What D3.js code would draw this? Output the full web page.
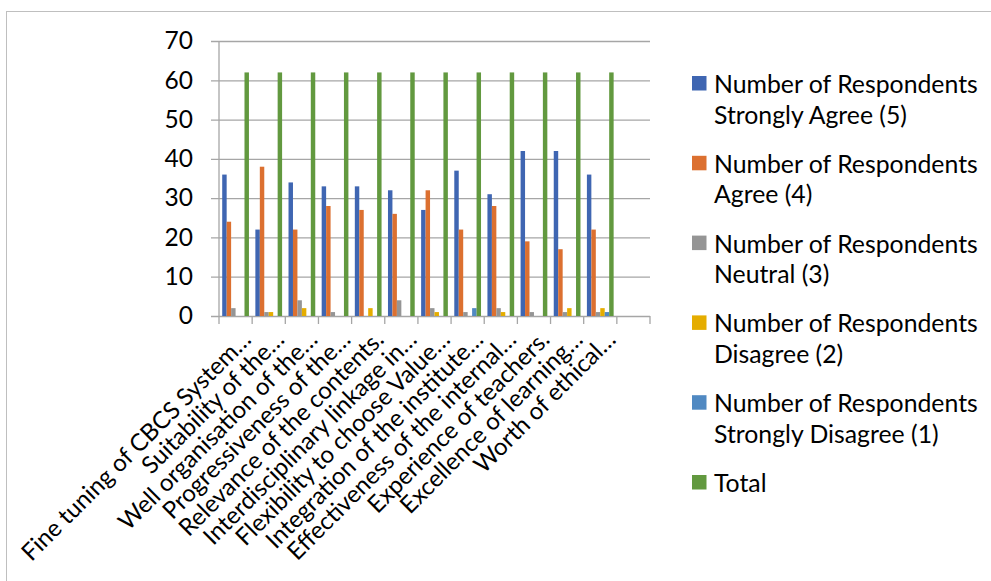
<!DOCTYPE html>
<html>
<head>
<meta charset="utf-8">
<script src="https://cdn.jsdelivr.net/npm/d3@7"></script>
<style>
  html, body { margin: 0; padding: 0; background: #ffffff; }
  svg { display: block; }
  text { font-family: Lato, "Open Sans", sans-serif; fill: #000000; }
</style>
</head>
<body>
<svg id="chart" width="991" height="581"></svg>
<script>
// Survey items (category axis)
const categories = [
  "Fine tuning of CBCS System…",
  "Suitability of the…",
  "Well organisation of the…",
  "Progressiveness of the…",
  "Relevance of the contents.",
  "Interdisciplinary linkage in…",
  "Flexibility to choose Value…",
  "Integration of the institute…",
  "Effectiveness of the internal…",
  "Experience of teachers.",
  "Excellence of learning…",
  "Worth of ethical…"
];

// Series names (legend, two lines each)
const seriesNames = [
  ["Number of Respondents", "Strongly Agree (5)"],
  ["Number of Respondents", "Agree (4)"],
  ["Number of Respondents", "Neutral (3)"],
  ["Number of Respondents", "Disagree (2)"],
  ["Number of Respondents", "Strongly Disagree (1)"],
  ["Total"]
];
const seriesColors = ["#3F66B2", "#DC7030", "#959595", "#E5AD00", "#5089C2", "#62993F"];

// Responses per item
const stronglyAgree    = [36, 22, 34, 33, 33, 32, 27, 37, 31, 42, 42, 36];
const agree            = [24, 38, 22, 28, 27, 26, 32, 22, 28, 19, 17, 22];
const neutral          = [ 2,  1,  4,  1,  0,  4,  2,  1,  2,  1,  1,  1];
const disagree         = [ 0,  1,  2,  0,  2,  0,  1,  0,  1,  0,  2,  2];
const stronglyDisagree = [ 0,  0,  0,  0,  0,  0,  0,  2,  0,  0,  0,  1];
const total            = [62, 62, 62, 62, 62, 62, 62, 62, 62, 62, 62, 62];

const yTicks = [0, 10, 20, 30, 40, 50, 60, 70];

const seriesValues = [stronglyAgree, agree, neutral, disagree, stronglyDisagree, total];

const svg = d3.select("#chart");
const plot = { left: 219, right: 650, top: 41, bottom: 316 };
const gridColor = "#A6A6A6";

// Chart area frame
svg.append("rect")
  .attr("x", 6.5).attr("y", 11.5)
  .attr("width", 1100).attr("height", 700)
  .attr("fill", "none").attr("stroke", "#BFBFBF").attr("stroke-width", 1);

// Scales: one extra empty slot at the end of the category axis
const x0 = d3.scaleBand()
  .domain(d3.range(categories.length + 1))
  .range([plot.left, plot.right])
  .paddingInner(0).paddingOuter(0);

const x1 = d3.scaleBand()
  .domain(d3.range(seriesValues.length))
  .range([0, x0.bandwidth()])
  .paddingInner(0).paddingOuter(0.72);

const y = d3.scaleLinear().domain([0, 70]).range([plot.bottom, plot.top]);

// Horizontal gridlines with short ticks to the left
const yAxis = d3.axisLeft(y)
  .tickValues(yTicks)
  .tickSize(-(plot.right - plot.left))
  .tickSizeOuter(0)
  .tickPadding(26)
  .tickFormat(d3.format("d"));

const gy = svg.append("g")
  .attr("transform", `translate(${plot.left},0)`)
  .call(yAxis);
gy.select(".domain").remove();
gy.selectAll(".tick line")
  .attr("x1", -8)
  .attr("stroke", gridColor).attr("stroke-width", 1.3);
gy.selectAll(".tick text")
  .attr("font-size", 24.5)
  .attr("font-family", "Lato, 'Open Sans', sans-serif")
  .attr("fill", "#000");

// Vertical axis line
svg.append("line")
  .attr("x1", plot.left).attr("x2", plot.left)
  .attr("y1", plot.top).attr("y2", plot.bottom)
  .attr("stroke", gridColor).attr("stroke-width", 1.3);

// Category axis with tick marks at slot boundaries
const boundaries = d3.range(categories.length + 2).map(i =>
  i <= categories.length ? x0(i) : plot.right);
svg.append("g").selectAll("line")
  .data(boundaries)
  .join("line")
  .attr("x1", d => d).attr("x2", d => d)
  .attr("y1", plot.bottom).attr("y2", plot.bottom + 8)
  .attr("stroke", gridColor).attr("stroke-width", 1.3);

// Bars
const groups = svg.append("g").selectAll("g")
  .data(categories.map((c, i) => i))
  .join("g")
  .attr("transform", i => `translate(${x0(i)},0)`);

groups.selectAll("rect")
  .data(i => seriesValues.map((vals, s) => ({ s, v: vals[i] })).filter(d => d.v > 0))
  .join("rect")
  .attr("x", d => x1(d.s))
  .attr("width", x1.bandwidth())
  .attr("y", d => y(d.v))
  .attr("height", d => y(0) - y(d.v))
  .attr("fill", d => seriesColors[d.s]);

// Rotated category labels
svg.append("g").selectAll("text")
  .data(categories)
  .join("text")
  .attr("transform", (d, i) =>
    `translate(${x0(i) + x0.bandwidth() / 2 + 17},${plot.bottom + 25}) rotate(-45)`)
  .attr("text-anchor", "end")
  .attr("font-size", 24)
  .text(d => d);

// Legend
const legend = svg.append("g");
const legendTop = 93, legendStep = 79.8;
seriesNames.forEach((lines, s) => {
  const by = legendTop + s * legendStep;
  legend.append("rect")
    .attr("x", 692).attr("y", by - 17)
    .attr("width", 14.5).attr("height", 14.5)
    .attr("fill", seriesColors[s]);
  lines.forEach((t, k) => {
    legend.append("text")
      .attr("x", 714).attr("y", by + k * 30.5)
      .attr("font-size", 24.8)
      .text(t);
  });
});
</script>
</body>
</html>
